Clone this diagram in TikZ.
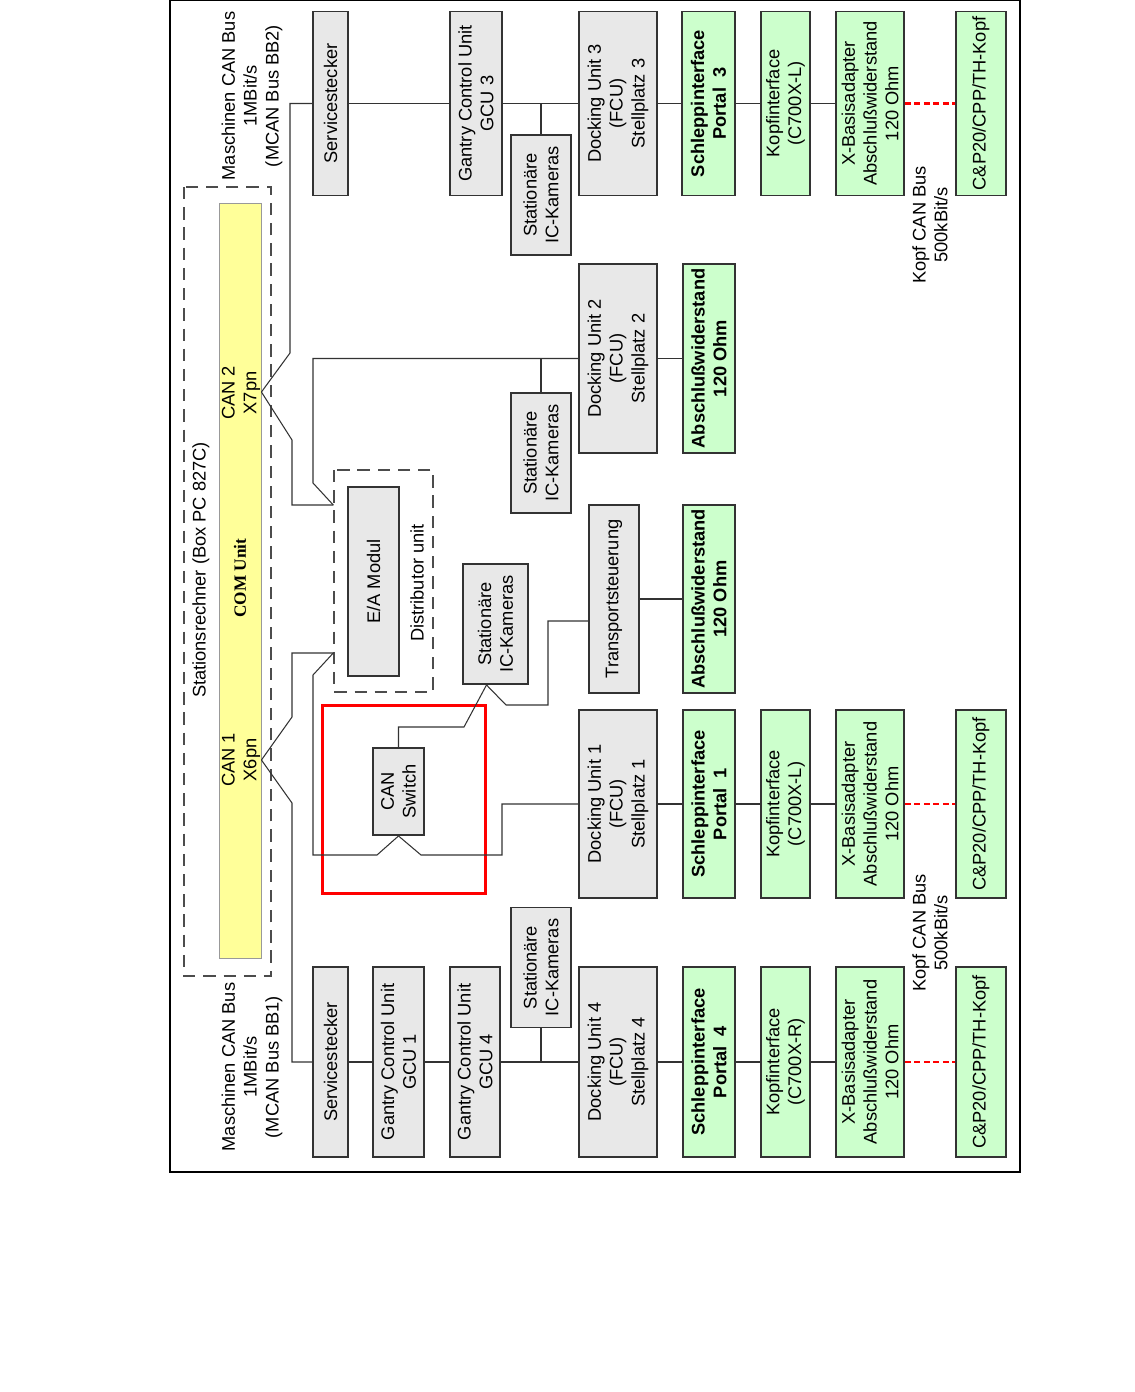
\documentclass[tikz,border=0pt]{standalone}
\usepackage{fontspec}
\setmainfont{Liberation Sans}
\newfontfamily\comfont{Liberation Serif}
\usetikzlibrary{calc}
\definecolor{BoxGray}{HTML}{E8E8E8}
\definecolor{BoxGreen}{HTML}{CCFFCC}
\definecolor{ComYellow}{HTML}{FFFF99}
\definecolor{EdgeGray}{HTML}{333333}

\begin{document}
\begin{tikzpicture}[x=0.02cm, y=-0.02cm,
  unit/.style={draw=EdgeGray, line width=1.1pt, fill=BoxGray, rotate=90, align=center,
    inner sep=0pt, font=\fontsize{10.4}{12.4}\selectfont},
  gunit/.style={unit, fill=BoxGreen},
  bunit/.style={gunit, font=\fontsize{10.4}{12.4}\selectfont\bfseries},
  rowtop/.style={minimum width=3.68cm},
  rowmid/.style={minimum width=3.76cm},
  rowbot/.style={minimum width=3.8cm},
  svc/.style={minimum height=0.7cm},
  gcu/.style={minimum height=1.03cm},
  dock/.style={minimum height=1.56cm},
  cam/.style={minimum width=2.4cm, minimum height=1.2cm},
  schlepp/.style={minimum height=1.05cm},
  kopfif/.style={minimum height=0.98cm},
  xbasis/.style={minimum height=1.36cm},
  cpkopf/.style={minimum height=1.0cm},
  wire/.style={draw=black!80, line width=0.6pt},
  kopfbus/.style={draw=red, line width=1.6pt, dash pattern=on 3.2pt off 2.2pt},
  housing/.style={draw=black!70, line width=0.8pt, dash pattern=on 7pt off 4.5pt, rotate=90, inner sep=0pt},
  caption/.style={rotate=90, align=center, inner sep=0pt, font=\fontsize{10.4}{12.4}\selectfont}]
  \useasboundingbox (0,0) rectangle (1134,1392);
  \draw[line width=0.8pt] (170,0.5) rectangle (1020,1172);

  \node[housing, minimum width=15.78cm, minimum height=1.74cm] (pc) at (227.5,581.5) {};
  \node[draw=black!40, line width=0.5pt, fill=ComYellow, rotate=90, inner sep=0pt,
    minimum width=15.12cm, minimum height=0.84cm] (com) at (240,581) {};
  \node[caption] (pclabel) at (201,570) {Stationsrechner (Box PC 827C)};
  \node[caption, font=\fontsize{9.8}{11}\selectfont\comfont\bfseries] (comlabel) at (240,578) {COM Unit};
  \node[caption] (can2) at (241,393) {CAN 2\\X7pn};
  \node[caption] (can1) at (241,760) {CAN 1\\X6pn};
  \node[caption] (bb2) at (252,96) {Maschinen CAN Bus\\1MBit/s\\(MCAN Bus BB2)};
  \node[caption] (bb1) at (252,1067) {Maschinen CAN Bus\\1MBit/s\\(MCAN Bus BB1)};
  \coordinate (x7) at (com.south |- 0,392);
  \coordinate (x6) at (com.south |- 0,760);

  \node[unit, rowtop, svc] (svcB) at (330.5,103.5) {Servicestecker};
  \node[unit, rowtop, gcu] (gcu3) at (476,103.5) {Gantry Control Unit\\GCU 3};
  \node[unit, cam] (ic3) at (541,195) {Stationäre\\IC-Kameras};
  \node[unit, rowtop, dock] (du3) at (618,103.5) {Docking Unit 3\\(FCU)\\Stellplatz 3};
  \node[bunit, rowtop, schlepp] (sp3) at (708.5,103.5) {Schleppinterface\\Portal\ \ 3};
  \node[gunit, rowtop, kopfif] (kiL3) at (785.5,103.5) {Kopfinterface\\(C700X-L)};
  \node[gunit, rowtop, xbasis] (xb3) at (870,103.5) {X-Basisadapter\\Abschlußwiderstand\\120 Ohm};
  \node[gunit, rowtop, cpkopf] (cp3) at (981,103.5) {C\&P20/CPP/TH-Kopf};
  \node[caption] (kopf3) at (930,225) {Kopf CAN Bus\\500kBit/s};

  \node[unit, minimum width=3.78cm, dock] (du2) at (618,358.5) {Docking Unit 2\\(FCU)\\Stellplatz 2};
  \node[bunit, minimum width=3.78cm, schlepp] (ab2) at (709,358.5) {Abschlußwiderstand\\120 Ohm};
  \node[unit, cam] (ic2) at (541,453) {Stationäre\\IC-Kameras};
  \node[unit, rowmid, minimum height=1.0cm] (ts) at (614,599) {Transportsteuerung};
  \node[bunit, rowmid, schlepp] (ab1) at (709,599) {Abschlußwiderstand\\120 Ohm};
  \node[unit, minimum width=2.4cm, minimum height=1.3cm] (ic1) at (495.5,624) {Stationäre\\IC-Kameras};
  \coordinate (ic1p) at ($(ic1.west)+(-9,0)$);

  \node[housing, minimum width=4.44cm, minimum height=1.98cm] (dist) at (383.5,581) {};
  \node[unit, minimum width=3.78cm, minimum height=1.02cm] (ea) at (373.5,581.5) {E/A Modul};
  \node[caption] (distlabel) at (417,583) {Distributor unit};
  \coordinate (d1) at (dist.north |- 0,505);
  \coordinate (d2) at (dist.north |- 0,653);

  \node[draw=red, line width=1.7pt, rotate=90, inner sep=0pt,
    minimum width=3.78cm, minimum height=3.28cm] (focus) at (404,799.5) {};
  \node[unit, minimum width=1.74cm, minimum height=1.02cm] (sw) at (398.5,791.5) {CAN\\Switch};

  \node[unit, rowmid, dock] (du1) at (618,804) {Docking Unit 1\\(FCU)\\Stellplatz 1};
  \node[bunit, rowmid, schlepp] (sp1) at (709,804) {Schleppinterface\\Portal\ \ 1};
  \node[gunit, rowmid, kopfif] (kiL1) at (785.5,804) {Kopfinterface\\(C700X-L)};
  \node[gunit, rowmid, xbasis] (xb1) at (870,804) {X-Basisadapter\\Abschlußwiderstand\\120 Ohm};
  \node[gunit, rowmid, cpkopf] (cp1) at (981,804) {C\&P20/CPP/TH-Kopf};
  \node[caption] (kopf1) at (930,933) {Kopf CAN Bus\\500kBit/s};

  \node[unit, rowbot, svc] (svcA) at (330.5,1062) {Servicestecker};
  \node[unit, rowbot, gcu] (gcu1) at (398.5,1062) {Gantry Control Unit\\GCU 1};
  \node[unit, rowbot, minimum height=1.0cm] (gcu4) at (475,1062) {Gantry Control Unit\\GCU 4};
  \node[unit, cam] (ic4) at (541,967.5) {Stationäre\\IC-Kameras};
  \node[unit, rowbot, dock] (du4) at (618,1062) {Docking Unit 4\\(FCU)\\Stellplatz 4};
  \node[bunit, rowbot, schlepp] (sp4) at (709,1062) {Schleppinterface\\Portal\ \ 4};
  \node[gunit, rowbot, kopfif] (kiR) at (785.5,1062) {Kopfinterface\\(C700X-R)};
  \node[gunit, rowbot, xbasis] (xb4) at (870,1062) {X-Basisadapter\\Abschlußwiderstand\\120 Ohm};
  \node[gunit, rowbot, cpkopf] (cp4) at (981,1062) {C\&P20/CPP/TH-Kopf};

  \draw[wire] (x7) -- (290,353) |- (svcB.north);
  \draw[wire] (x7) -- (292,440) |- (d1);
  \draw[wire] (d1) -- (313,483) |- (du2.north);
  \draw[wire] (ic2.east) -- (ic2.east |- du2.north);
  \draw[wire] (x6) -- (292,717) |- (d2);
  \draw[wire] (x6) -- (292,803) |- (svcA.north);
  \draw[wire] (d2) -- (313,675) |- (377,855) -- (sw.west);
  \draw[wire] (sw.west) -- (421,855) -- (502,855) |- (du1.north);
  \draw[wire] (sw.east) |- (464,727) -- (ic1p);
  \draw[wire] (ic1p) -- (506,705) -| (548,621) -- (ts.north |- 0,621);
  \draw[wire] (ic3.east) -- (ic3.east |- du3.north);
  \draw[wire] (ic4.west) -- (ic4.west |- du4.north);
  \draw[wire] (svcB.south) -- (gcu3.north) (gcu3.south) -- (du3.north) (du3.south) -- (sp3.north)
    (sp3.south) -- (kiL3.north) (kiL3.south) -- (xb3.north);
  \draw[wire] (du2.south) -- (ab2.north) (ts.south) -- (ab1.north);
  \draw[wire] (du1.south) -- (sp1.north) (sp1.south) -- (kiL1.north) (kiL1.south) -- (xb1.north);
  \draw[wire] (svcA.south) -- (gcu1.north) (gcu1.south) -- (gcu4.north) (gcu4.south) -- (du4.north)
    (du4.south) -- (sp4.north) (sp4.south) -- (kiR.north) (kiR.south) -- (xb4.north);
  \draw[kopfbus] (xb3.south) -- (cp3.north);
  \draw[kopfbus] (xb1.south) -- (cp1.north);
  \draw[kopfbus] (xb4.south) -- (cp4.north);
\end{tikzpicture}
\end{document}
